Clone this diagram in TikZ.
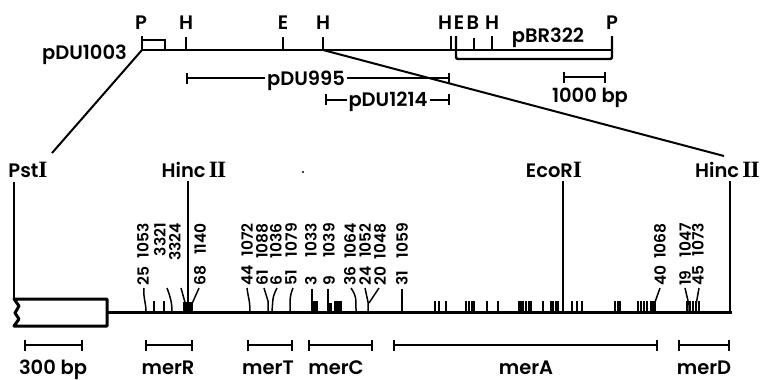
\documentclass[tikz,border=0pt]{standalone}
\usepackage{fontspec}
\setmainfont{Poppins}[UprightFont={* SemiBold}]
\newfontfamily\romfont{Liberation Serif}[Scale=1.2]
\usetikzlibrary{arrows.meta}
\newcommand\rn[1]{{\romfont\bfseries #1}}
\tikzset{
  mapline/.style={line width=2.4pt},
  bigline/.style={line width=3pt},
  linkline/.style={line width=2pt},
  sitetick/.style={line width=1.4pt},
  lead/.style={line width=1.5pt},
  lbl/.style={inner sep=0pt, font=\fontsize{19.5}{20}\selectfont},
  num/.style={inner sep=0pt, rotate=90, font=\fontsize{15.5}{16}\selectfont},
  barline/.style={line width=2pt, {Bar[width=11pt]}-{Bar[width=11pt]}},
  gap/.style={fill=white, inner xsep=2pt, inner ysep=1pt},
}
\begin{document}
\begin{tikzpicture}[x=1pt,y=-1pt]
\useasboundingbox (0,0) rectangle (761,380);

% ---------------- plasmid map pDU1003 ----------------
\coordinate (pL) at (142,50);
\coordinate (pR) at (612,50);
\coordinate (hA) at (323,50);
\draw[mapline] (pL) -- (pR);
\draw[mapline] (142,36) -- (pL);
\draw[mapline] (142,40) -- (165,40) -- (165,50);
\draw[mapline, rounded corners=2pt] (456,36) -- (456,59) -- (612,59) -- (612,36);
\foreach \x/\t in {186/37, 283/37, 323/37, 451/36, 474/38, 492/36}
  \draw[mapline] (\x,\t) -- (\x,50);

\node[lbl, anchor=base] (tP1) at (141,29) {P};
\node[lbl, anchor=base] (tH1) at (186,29) {H};
\node[lbl, anchor=base] (tE1) at (283,29) {E};
\node[lbl, anchor=base] (tH2) at (323,29) {H};
\node[lbl, anchor=base] (tH3) at (445,29) {H};
\node[lbl, anchor=base] (tE2) at (459,29) {E};
\node[lbl, anchor=base] (tB)  at (473,29) {B};
\node[lbl, anchor=base] (tH4) at (492,29) {H};
\node[lbl, anchor=base] (tP2) at (612,29) {P};
\node[lbl, anchor=base east] (pdu1003) at (127,59) {pDU1003};
\node[lbl, anchor=base] (pbr) at (548,42) {pBR322};

% subclones
\draw[barline] (186,78) -- (450,78);
\node[lbl, gap, anchor=base] (pdu995) at (306,85) {pDU995};
\draw[barline] (325,99.5) -- (450,99.5);
\node[lbl, gap, anchor=base] (pdu1214) at (388,106.5) {pDU1214};

% 1000 bp scale
\draw[barline] (563,77) -- (606,77);
\node[lbl, anchor=base] (kb) at (590,102) {1000 bp};

% expansion lines
\coordinate (zL) at (52,153);
\coordinate (zR) at (724,156);
\draw[linkline] (pL) -- (zL);
\draw[linkline] (hA) -- (zR);

% ---------------- detailed map ----------------
\node[lbl, anchor=base] (pst) at (28,177) {Pst\rn{I}};
\node[lbl, anchor=base] (hinc1) at (194,177) {Hinc\,\rn{I\kern-0.8pt I}};
\node[lbl, anchor=base] (eco) at (554,177) {EcoR\rn{I}};
\node[lbl, anchor=base east] (hinc2) at (760,177) {Hinc\,\rn{I\kern-0.8pt I}};
\fill (303,172) circle (1.1pt);

\draw[linkline] (14,182) -- (14,299);
\draw[linkline] (188,181) -- (188,312);
\draw[linkline] (563,181) -- (563,312);
\draw[linkline] (730,181) -- (730,312);

% vector segment and main line
\draw[bigline, line join=round] (107,312) -- (107,326) -- (14,326) -- (19,319) -- (15,313) -- (19,306) -- (14,299) -- (107,299) -- (107,312);
\draw[bigline] (107,312) -- (731.5,312);

% short site ticks
\foreach \x in {154,164,
                435,439,446,466,469,472,474,487,498,
                519,521,523,526,529,531,543,551,553,556,558,572,577,582,
                615,618,620,638,641,644,647,651,653,655,
                687,690,693,696,699}
  \draw[sitetick] (\x,301) -- (\x,312);
\fill (183,302) rectangle (193,312);
\fill (313,301) rectangle (318,312);
\fill (327,303) rectangle (332,312);
\fill (334,301) rectangle (342,312);

% leaders to the mutation numbers
\draw[lead] (144,288) .. controls (143,298) and (146,302) .. (146,312);
\draw[lead] (167,288) .. controls (170,296) and (172,302) .. (172,312);
\draw[lead] (181,288) -- (186,306);
\draw[lead] (199,288) -- (191,306);
\draw[lead] (247,288) .. controls (248,297) and (250,300) .. (250,312);
\draw[lead] (264,288) -- (268,301) -- (268,312);
\draw[lead] (277,288) .. controls (273,296) .. (272,312);
\draw[lead] (293,288) .. controls (290,296) .. (290,312);
\draw[lead] (312,289) -- (312,312);
\draw[lead] (328,289) -- (328,312);
\draw[lead] (351,288) .. controls (356,296) .. (356,312);
\draw[lead] (365,288) -- (368,302) -- (368,312);
\draw[lead] (379,288) -- (369,303);
\draw[lead] (402,289) -- (402,312);
\draw[lead] (660,288) -- (654,305) -- (654,312);
\draw[lead] (685,288) -- (689,305) -- (689,312);
\draw[lead] (699,288) -- (696,305) -- (696,312);

% mutation numbers
\foreach \x/\a/\b in {143/25/1053, 200/68/1140,
   247/44/1072, 262/61/1088, 276/6/1036, 291/51/1079, 311/3/1033, 329/9/1039,
   350/36/1064, 365/24/1052, 380/20/1048, 402/31/1059,
   660/40/1068, 685/19/1047, 698/45/1073}{
  \node[num, anchor=west] (lo\b) at (\x,286) {\a};
  \node[num, anchor=east] (hi\b) at (\x,223) {\b};
}
\node[num, anchor=east] (hi3321) at (160,223) {3321};
\node[num, anchor=east] (hi3324) at (175,223) {3324};

% gene extents and scale
\draw[barline] (24,345) -- (83,345);
\node[lbl, anchor=base] (bp300) at (53,374) {300 bp};
\draw[barline] (145,345) -- (193,345);
\node[lbl, anchor=base] (merR) at (168,374) {merR};
\draw[barline] (247,345) -- (293,345);
\node[lbl, anchor=base] (merT) at (268,374) {merT};
\draw[barline] (308,345) -- (373,345);
\node[lbl, anchor=base] (merC) at (336,374) {merC};
\draw[barline] (393,345) -- (658,345);
\node[lbl, anchor=base] (merA) at (526,374) {merA};
\draw[barline] (678,345) -- (730,345);
\node[lbl, anchor=base] (merD) at (704,374) {merD};
\end{tikzpicture}
\end{document}
